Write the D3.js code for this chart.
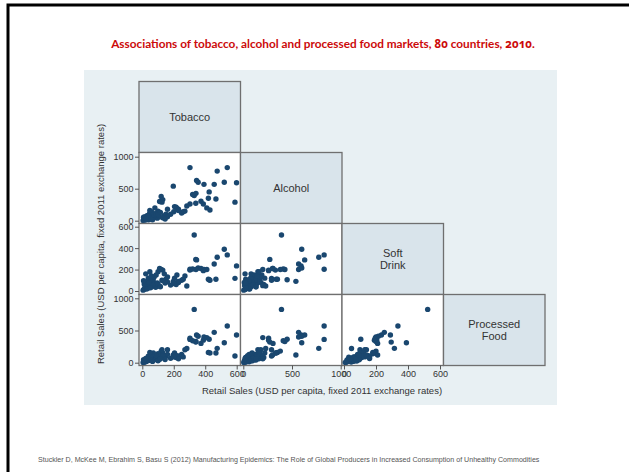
<!DOCTYPE html>
<html><head><meta charset="utf-8">
<script src="https://cdn.jsdelivr.net/npm/d3@7/dist/d3.min.js"></script>
<style>body{margin:0;background:#fff}svg{display:block}</style>
</head><body>
<script>
// Variables (diagonal labels)
const variables = ["Tobacco", "Alcohol", "Soft Drink", "Processed Food"];
const diagLabels = [["Tobacco"], ["Alcohol"], ["Soft", "Drink"], ["Processed", "Food"]];
// Retail sales per capita (USD, fixed 2011 exchange rates), 80 countries
const tobacco = [330,540,521,599,589,476,457,303,392,345,355,340,197,425,341,468,430,410,303,320,373,388,420,283,271,250,230,215,260,120,130,110,125,205,220,230,200,160,100,90,150,80,70,60,10,25,40,15,55,30,70,45,85,20,60,35,95,50,75,5,18,28,65,42,110,12,88,52,38,100,140,160,180,130,58,8,115,145,22,48];
const alcohol = [392,830,600,593,290,775,568,830,568,630,600,272,540,450,427,338,167,200,260,410,305,260,350,230,150,120,180,210,140,380,330,300,290,220,190,160,140,180,150,120,100,200,90,130,20,35,15,60,45,80,55,100,70,10,25,50,40,120,85,5,28,65,15,90,60,40,110,30,75,95,80,60,100,45,140,55,130,25,18,160];
const softDrink = [523,337,390,234,118,315,252,203,200,290,215,295,90,105,200,110,100,200,195,205,210,190,110,47,140,100,80,60,110,200,195,210,100,120,150,90,70,130,180,60,110,50,120,40,15,30,50,20,70,40,90,60,35,80,110,25,75,100,130,8,45,18,55,85,45,65,150,30,120,65,160,85,55,95,140,95,40,75,160,180];
const processedFood = [828,570,310,429,104,223,471,362,400,430,410,320,120,363,330,150,150,390,380,340,300,350,160,220,200,130,100,80,90,180,150,120,200,150,110,60,90,200,140,90,100,60,150,40,10,20,35,15,50,30,60,45,70,25,80,55,40,65,90,5,12,40,20,75,55,30,110,85,100,30,95,130,70,110,120,45,60,50,65,160];
// Axis ticks per variable
const ticks = [[0,200,400,600],[0,500,1000],[0,200,400,600],[0,500,1000]];

const titleParts = ["Associations of tobacco, alcohol and processed food markets, ", "80", " countries, ", "2010", "."];
const axisTitle = "Retail Sales (USD per capita, fixed 2011 exchange rates)";
const source = "Stuckler D, McKee M, Ebrahim S, Basu S (2012) Manufacturing Epidemics: The Role of Global Producers in Increased Consumption of Unhealthy Commodities";

const cols = [tobacco, alcohol, softDrink, processedFood];
const W = 629, H = 472;
const svg = d3.select("body").append("svg").attr("width", W).attr("height", H);
svg.append("rect").attr("width", W).attr("height", H).attr("fill", "#fff");

// slide frame
svg.append("path").attr("d", "M8,472V5H629").attr("fill", "none").attr("stroke", "#000").attr("stroke-width", 3);

const t = svg.append("text").attr("x", 323).attr("y", 48).attr("text-anchor", "middle")
  .attr("font-family", "Lato, 'Open Sans', sans-serif").attr("font-weight", "bold")
  .attr("font-size", 11.8).attr("fill", "#cc0a0a");
titleParts.forEach((p, k) => {
  const ts = t.append("tspan").text(p);
  if (k % 2 === 1) ts.attr("font-family", "'Noto Sans', 'Open Sans', sans-serif").attr("font-size", 11.5)
    .style("font-variant-numeric", "oldstyle-nums").style("font-feature-settings", "'onum' 1");
});

// graph region background
svg.append("rect").attr("x", 84).attr("y", 70).attr("width", 473).attr("height", 335).attr("fill", "#e8f0f3");

const x0 = 139, cw = 101.5, y0 = 81.5, ch = 71;
// pixel placement of axis values inside a cell (offsets from cell start)
const xScales = [
  d3.scaleLinear().domain([0, 600]).range([3.3, 97.7]),
  d3.scaleLinear().domain([0, 1000]).range([2.8, 100.2]),
  d3.scaleLinear().domain([0, 600]).range([2, 98]),
  d3.scaleLinear().domain([0, 1000]).range([3, 98])
];
const yScales = [
  d3.scaleLinear().domain([0, 1000]).range([ch - 3, 4]),
  d3.scaleLinear().domain([0, 1000]).range([ch - 2.8, 4.2]),
  d3.scaleLinear().domain([0, 600]).range([ch - 3.5, 3.2]),
  d3.scaleLinear().domain([0, 1000]).range([ch - 2.8, 3.8])
];

const font = "'Liberation Sans', Arial, sans-serif";
const dotColor = "#1a476f";

for (let i = 0; i < 4; i++) {
  for (let j = 0; j <= i; j++) {
    const g = svg.append("g").attr("transform", `translate(${x0 + j * cw},${y0 + i * ch})`);
    if (i === j) {
      g.append("rect").attr("width", cw).attr("height", ch).attr("fill", "#d9e4eb")
        .attr("stroke", "#6f6f6f").attr("stroke-width", 1.3);
      const lines = diagLabels[i];
      lines.forEach((ln, k) => {
        g.append("text").attr("x", cw / 2).attr("y", ch / 2 + 4 + (k - (lines.length - 1) / 2) * 11.5)
          .attr("text-anchor", "middle").attr("font-family", font).attr("font-size", 11)
          .attr("fill", "#333").text(ln);
      });
    } else {
      g.append("rect").attr("width", cw).attr("height", ch).attr("fill", "#fff")
        .attr("stroke", "#6f6f6f").attr("stroke-width", 1.3);
      const xs = xScales[j], ys = yScales[i];
      const xv = cols[j], yv = cols[i];
      g.selectAll("circle").data(d3.range(xv.length)).join("circle")
        .attr("cx", k => xs(xv[k])).attr("cy", k => ys(yv[k])).attr("r", 2.7)
        .attr("fill", dotColor);
    }
  }
}

// left axes (rows 1..3)
for (let i = 1; i < 4; i++) {
  const ys = yScales[i].copy().range(yScales[i].range().map(v => v + y0 + i * ch));
  const ax = svg.append("g").attr("transform", `translate(${x0},0)`)
    .call(d3.axisLeft(ys).tickValues(ticks[i]).tickSize(4).tickPadding(1.5).tickFormat(d3.format("d")));
  ax.select(".domain").remove();
  ax.selectAll("line").attr("stroke", "#555");
  ax.selectAll("text").attr("font-family", font).attr("font-size", 9).attr("fill", "#333");
}
// bottom axes (cols 0..2)
for (let j = 0; j < 3; j++) {
  const xs = xScales[j].copy().range(xScales[j].range().map(v => v + x0 + j * cw));
  const ax = svg.append("g").attr("transform", `translate(0,${y0 + 4 * ch})`)
    .call(d3.axisBottom(xs).tickValues(ticks[j]).tickSize(4).tickPadding(1.5).tickFormat(d3.format("d")));
  ax.select(".domain").remove();
  ax.selectAll("line").attr("stroke", "#555");
  ax.selectAll("text").attr("font-family", font).attr("font-size", 9).attr("fill", "#333");
}

svg.append("text").attr("x", 322).attr("y", 394).attr("text-anchor", "middle")
  .attr("font-family", font).attr("font-size", 9.5).attr("fill", "#333").text(axisTitle);
svg.append("text").attr("transform", "translate(104,244) rotate(-90)").attr("text-anchor", "middle")
  .attr("font-family", font).attr("font-size", 9.5).attr("fill", "#333").text(axisTitle);

svg.append("text").attr("x", 38).attr("y", 462).attr("font-family", font).attr("font-size", 7.1)
  .attr("fill", "#555").text(source);
</script>
</body></html>
